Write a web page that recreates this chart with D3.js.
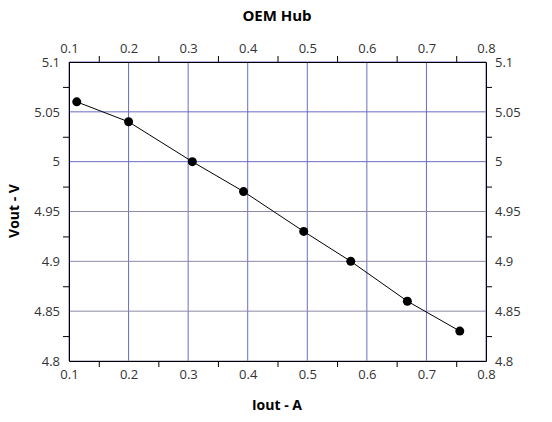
<!DOCTYPE html><html><head><script src="https://cdn.jsdelivr.net/npm/d3@7"></script>
<style>body{margin:0;background:#fff}text{font-family:"Open Sans",sans-serif}</style></head><body>
<svg id="c" width="552" height="422"></svg>
<script>
const iout=[0.113,0.2,0.307,0.393,0.494,0.573,0.668,0.756];
const vout=[5.06,5.04,5.0,4.97,4.93,4.90,4.86,4.83];
const xTicks=[0.1,0.2,0.3,0.4,0.5,0.6,0.7,0.8];
const yTicks=[4.8,4.85,4.9,4.95,5,5.05,5.1];
const svg=d3.select("#c");
const L=69,R=486,T=62,B=361;
const x=d3.scaleLinear().domain([0.1,0.8]).range([L,R]);
const y=d3.scaleLinear().domain([4.8,5.1]).range([B,T]);
const g=svg.append("g");
xTicks.forEach(t=>g.append("line").attr("x1",x(t)).attr("x2",x(t)).attr("y1",T).attr("y2",B).attr("stroke","#6b6bc4").attr("stroke-width",1));
yTicks.forEach((t,i)=>g.append("line").attr("x1",L).attr("x2",R).attr("y1",y(t)).attr("y2",y(t)).attr("stroke",t>=5?"#6b6bc4":"#8a8aa8").attr("stroke-width",1));
const xm=d3.range(0.15,0.8,0.1), ym=d3.range(4.825,5.1,0.05);
const ax=(a,ticks,tr)=>svg.append("g").attr("transform",tr).call(a.tickValues(ticks).tickFormat(d3.format("")).tickSize(0).tickPadding(9)).call(s=>{s.selectAll("text").attr("font-size",13).attr("fill","#333");s.select(".domain").attr("stroke","#000");});
ax(d3.axisBottom(x),xTicks,`translate(0,${B})`);
ax(d3.axisTop(x),xTicks,`translate(0,${T})`);
ax(d3.axisLeft(y),yTicks,`translate(${L},0)`);
ax(d3.axisRight(y),yTicks,`translate(${R},0)`);
const mt=(a,ticks,tr)=>svg.append("g").attr("transform",tr).call(a.tickValues(ticks).tickFormat("").tickSize(6).tickSizeOuter(0)).call(s=>s.select(".domain").remove());
mt(d3.axisBottom(x),xm,`translate(0,${B})`);
mt(d3.axisTop(x),xm,`translate(0,${T})`);
mt(d3.axisLeft(y),ym,`translate(${L},0)`);
mt(d3.axisRight(y),ym,`translate(${R},0)`);
const pts=iout.map((v,i)=>[v,vout[i]]);
svg.append("path").attr("d",d3.line().x(d=>x(d[0])).y(d=>y(d[1]))(pts)).attr("fill","none").attr("stroke","#000").attr("stroke-width",1);
svg.selectAll("circle").data(pts).join("circle").attr("cx",d=>x(d[0])).attr("cy",d=>y(d[1])).attr("r",4.5).attr("fill","#000");
svg.append("text").attr("x",277).attr("y",21).attr("text-anchor","middle").attr("font-size",15).attr("font-weight","bold").text("OEM Hub");
svg.append("text").attr("x",277).attr("y",410).attr("text-anchor","middle").attr("font-size",14).attr("font-weight","bold").text("Iout - A");
svg.append("text").attr("transform","translate(19,211) rotate(-90)").attr("text-anchor","middle").attr("font-size",14).attr("font-weight","bold").text("Vout - V");
</script></body></html>
